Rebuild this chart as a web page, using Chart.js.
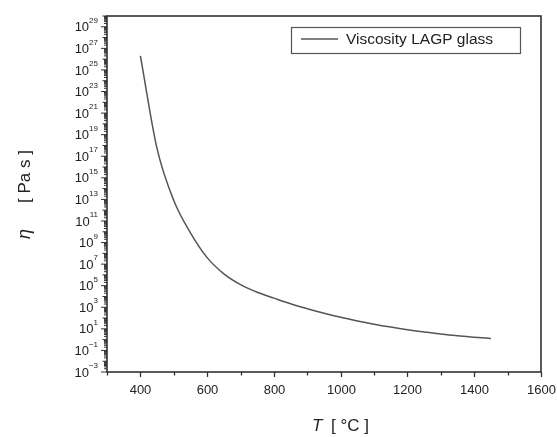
<!DOCTYPE html>
<html>
<head>
<meta charset="utf-8">
<script src="https://cdn.jsdelivr.net/npm/chart.js@4.4.1/dist/chart.umd.min.js"></script>
<style>
	html, body { margin: 0; padding: 0; background: #fff; }
	#wrap { width: 557px; height: 437px; }
</style>
</head>
<body>
<div id="wrap"><canvas id="viscChart" width="557" height="437"></canvas></div>
<script>
// Temperature [°C] and viscosity [Pa s]
const temperatures = [400, 450, 500, 550, 600, 650, 700, 750, 800, 850, 900, 950,
	1000, 1050, 1100, 1150, 1200, 1250, 1300, 1350, 1400, 1450];
const viscosity = [2.0e26, 5.0e17, 7.9e12, 7.9e9, 4.0e7, 1.26e6, 1.26e5, 2.5e4, 7.1e3, 2.1e3, 741, 282,
	117, 53.7, 26.9, 14.5, 8.3, 5.1, 3.4, 2.3, 1.7, 1.29];
const seriesLabel = 'Viscosity LAGP glass';

// Axis ticks
const xTicks = [300, 400, 500, 600, 700, 800, 900, 1000, 1100, 1200, 1300, 1400, 1500, 1600];
const xLabels = [400, 600, 800, 1000, 1200, 1400, 1600];
const yExponents = [-3, -2, -1, 0, 1, 2, 3, 4, 5, 6, 7, 8, 9, 10, 11, 12, 13, 14, 15, 16,
	17, 18, 19, 20, 21, 22, 23, 24, 25, 26, 27, 28, 29, 30];
const yLabelExponents = [-3, -1, 1, 3, 5, 7, 9, 11, 13, 15, 17, 19, 21, 23, 25, 27, 29];

const FONT = '"Liberation Sans", Arial, sans-serif';
const AXIS_COLOR = '#333';

const points = temperatures.map((t, i) => ({ x: t, y: viscosity[i] }));

// Frame, ticks, labels, titles and legend drawn by hand
const decorPlugin = {
	id: 'decor',
	afterDraw(chart) {
		const ctx = chart.ctx;
		const area = chart.chartArea;
		const xs = chart.scales.x;
		const ys = chart.scales.y;
		ctx.save();

		// frame
		ctx.strokeStyle = AXIS_COLOR;
		ctx.lineWidth = 1.6;
		ctx.strokeRect(area.left, area.top, area.right - area.left, area.bottom - area.top);

		// x ticks and labels
		ctx.lineWidth = 1.3;
		ctx.fillStyle = '#222';
		ctx.font = '13px ' + FONT;
		ctx.textAlign = 'center';
		ctx.textBaseline = 'middle';
		xTicks.forEach(v => {
			const px = Math.round(xs.getPixelForValue(v)) + 0.5;
			const isMajor = xLabels.includes(v);
			ctx.beginPath();
			ctx.moveTo(px, area.bottom);
			ctx.lineTo(px, area.bottom + (isMajor ? 5 : 3.5));
			ctx.stroke();
			if (isMajor) ctx.fillText(String(v), px, area.bottom + 18);
		});

		// y ticks: decades plus minor 2..9
		ctx.lineWidth = 1;
		yExponents.forEach(e => {
			const major = Math.pow(10, e);
			const len = yLabelExponents.includes(e) ? 6 : 4.5;
			let py = ys.getPixelForValue(major);
			ctx.beginPath();
			ctx.moveTo(area.left, py);
			ctx.lineTo(area.left - len, py);
			ctx.stroke();
			if (e < 30) {
				for (let m = 2; m <= 9; m++) {
					py = ys.getPixelForValue(m * major);
					ctx.beginPath();
					ctx.moveTo(area.left, py);
					ctx.lineTo(area.left - 3, py);
					ctx.stroke();
				}
			}
		});

		// y tick labels 10^n
		yLabelExponents.forEach(e => {
			const py = ys.getPixelForValue(Math.pow(10, e));
			const sup = String(e).replace('-', '\u2212');
			ctx.font = '8px ' + FONT;
			const supW = ctx.measureText(sup).width;
			const right = area.left - 9;
			ctx.textAlign = 'left';
			ctx.fillText(sup, right - supW, py - 6);
			ctx.font = '13px ' + FONT;
			ctx.textAlign = 'right';
			ctx.fillText('10', right - supW, py + 1);
		});

		// y title
		ctx.save();
		ctx.translate(25, (area.top + area.bottom) / 2);
		ctx.rotate(-Math.PI / 2);
		ctx.textAlign = 'left';
		ctx.textBaseline = 'middle';
		ctx.font = 'italic 18px ' + FONT;
		ctx.fillText('\u03b7', -45, 0);
		ctx.font = '17px ' + FONT;
		ctx.fillText('[ Pa s ]', -9, 0);
		ctx.restore();

		// x title
		ctx.textAlign = 'left';
		ctx.textBaseline = 'middle';
		ctx.font = 'italic 17px ' + FONT;
		ctx.fillText('T', 312, 426);
		ctx.font = '17px ' + FONT;
		ctx.fillText('[ \u00b0C ]', 331, 426);

		// legend
		const lx = area.right - 250, ly = area.top + 11;
		const lw = 229, lh = 26;
		ctx.strokeStyle = '#555';
		ctx.lineWidth = 1.2;
		ctx.strokeRect(lx + 0.5, ly + 0.5, lw, lh);
		ctx.strokeStyle = chart.data.datasets[0].borderColor;
		ctx.lineWidth = 1.3;
		ctx.beginPath();
		ctx.moveTo(lx + 10, ly + 12);
		ctx.lineTo(lx + 47, ly + 12);
		ctx.stroke();
		ctx.fillStyle = '#222';
		ctx.font = '15.5px ' + FONT;
		ctx.fillText(chart.data.datasets[0].label, lx + 55, ly + 13);

		ctx.restore();
	}
};

const viscCtx = document.getElementById('viscChart');
new Chart(viscCtx, {
	type: 'line',
	data: {
		datasets: [{
			label: seriesLabel,
			data: points,
			borderColor: '#555',
			borderWidth: 1.5,
			pointRadius: 0,
			fill: false,
			cubicInterpolationMode: 'monotone'
		}]
	},
	options: {
		responsive: false,
		animation: false,
		layout: {
			padding: { left: 0, top: 16, right: 16, bottom: 0 }
		},
		plugins: {
			legend: { display: false },
			tooltip: { enabled: false }
		},
		scales: {
			x: {
				type: 'linear',
				min: 300,
				max: 1600,
				grid: { display: false },
				border: { display: false },
				ticks: { display: false },
				afterFit: scale => { scale.height = 65; }
			},
			y: {
				type: 'logarithmic',
				min: 1e-3,
				max: 1e30,
				grid: { display: false },
				border: { display: false },
				ticks: { display: false },
				afterFit: scale => { scale.width = 107; }
			}
		}
	},
	plugins: [decorPlugin]
});
</script>
</body>
</html>
